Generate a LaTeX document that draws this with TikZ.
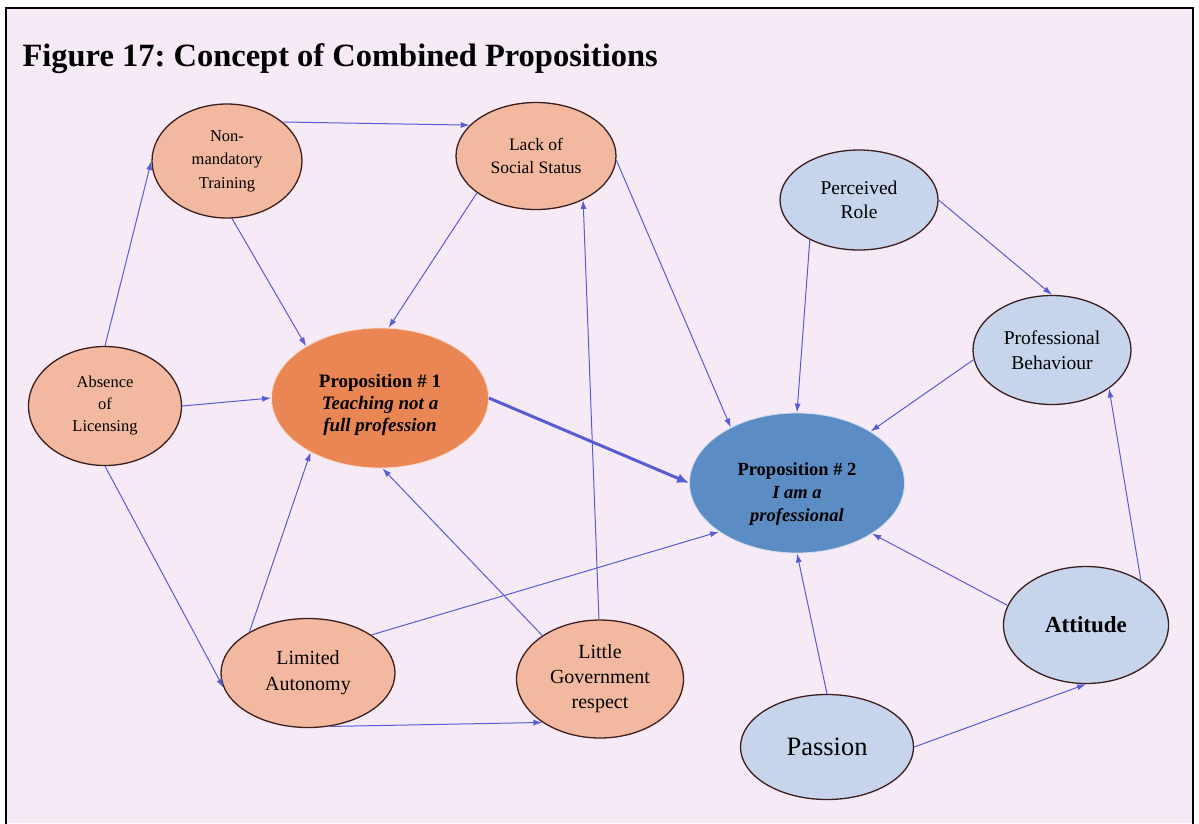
\documentclass[tikz,border=0pt]{standalone}
\usepackage{fontspec}
\setmainfont{Liberation Serif}
\usetikzlibrary{shapes.geometric,arrows.meta}
\definecolor{bgc}{RGB}{246,234,246}
\definecolor{salm}{RGB}{243,185,160}
\definecolor{pone}{RGB}{234,134,84}
\definecolor{ptwo}{RGB}{92,140,196}
\definecolor{lblue}{RGB}{198,213,236}
\definecolor{edgec}{RGB}{88,92,210}
\definecolor{outl}{RGB}{60,30,30}
\frenchspacing
\begin{document}
\begin{tikzpicture}[x=1pt,y=-1pt,
  ell/.style={ellipse,inner sep=0pt,align=center,draw=outl,line width=1.3pt,text=black},
  sal/.style={ell,fill=salm},
  lb/.style={ell,fill=lblue},
  arr/.style={draw=edgec,line width=1pt,-{Latex[length=9pt,width=6pt]}},
  ptext/.style={inner sep=0pt,align=center,text=black},
]
\useasboundingbox (0,0) rectangle (1199,823);
\fill[white] (0,0) rectangle (1199,823);
\fill[bgc] (6,8) rectangle (1193,823);
\draw[line width=2pt] (6,830) -- (6,8) -- (1193,8) -- (1193,830);

\node[anchor=west,font=\bfseries\fontsize{32.5}{34}\selectfont] (title) at (19,59) {Figure 17: Concept of Combined Propositions};

\node[sal,minimum width=150pt,minimum height=114pt,font=\fontsize{16.5}{23.5}\selectfont] (nm) at (227,161) {Non-\\mandatory\\Training};
\node[sal,minimum width=160pt,minimum height=107pt,font=\fontsize{17.5}{23}\selectfont] (lack) at (536,156) {Lack of\\Social Status};
\node[sal,minimum width=153pt,minimum height=119pt,font=\fontsize{16.5}{22}\selectfont] (abs) at (105,406) {Absence\\of\\Licensing};
\node[ell,draw=white!70!pone,line width=0.8pt,fill=pone,minimum width=217pt,minimum height=140pt] (p1) at (380,398) {};
\node[ptext,font=\bfseries\fontsize{19}{22}\selectfont] (p1t) at ([yshift=-7pt]p1.center) {Proposition \# 1\\\textit{Teaching not a}\\\textit{full profession}};
\node[ell,draw=white!70!ptwo,line width=0.8pt,fill=ptwo,minimum width=215pt,minimum height=140pt] (p2) at (797,483) {};
\node[ptext,font=\bfseries\fontsize{18.5}{23}\selectfont] (p2t) at ([yshift=-11pt]p2.center) {Proposition \# 2\\\textit{I am a}\\\textit{professional}};
\node[lb,minimum width=158pt,minimum height=100pt,font=\fontsize{19.5}{24}\selectfont] (pr) at (859,200) {Perceived\\Role};
\node[lb,minimum width=158pt,minimum height=109pt,font=\fontsize{19.5}{25}\selectfont] (pb) at (1052,350) {Professional\\Behaviour};
\node[lb,minimum width=165pt,minimum height=117pt,font=\bfseries\fontsize{23}{26}\selectfont] (att) at (1086,625) {Attitude};
\node[lb,minimum width=173pt,minimum height=105pt,font=\fontsize{26.5}{30}\selectfont] (pas) at (827,747) {Passion};
\node[sal,minimum width=174pt,minimum height=109pt,font=\fontsize{20}{26}\selectfont] (la) at (308,673) {Limited\\Autonomy};
\node[sal,minimum width=167pt,minimum height=118pt,font=\fontsize{20}{25}\selectfont] (lg) at (600,679) {Little\\Government\\respect};

\draw[arr] (abs.90) -- (nm.180);
\draw[arr] (nm.35) -- (lack.155);
\draw[arr] (nm.-85) -- (p1.145);
\draw[arr] (lack.212) -- (p1.83);
\draw[arr] (lack.-3) -- (p2.140);
\draw[arr] (abs.0) -- (p1.180);
\draw[arr] (abs.-90) -- (la.190);
\draw[arr] (la.145) -- (p1.218);
\draw[arr] (la.31) -- (p2.212);
\draw[arr] (la.-68) -- (lg.217);
\draw[arr] (lg.143) -- (p1.-88);
\draw[arr] (lg.91) -- (lack.-43);
\draw[draw=edgec,line width=3pt,-{Latex[length=12pt,width=10pt]}] (p1.0) -- (p2.180);
\draw[arr] (pr.219) -- (p2.90);
\draw[arr] (pr.0) -- (pb.90);
\draw[arr] (pb.187) -- (p2.35);
\draw[arr] (att.39) -- (pb.-34);
\draw[arr] (att.166) -- (p2.-34);
\draw[arr] (pas.90) -- (p2.-90);
\draw[arr] (pas.0) -- (att.-90);
\end{tikzpicture}
\end{document}
